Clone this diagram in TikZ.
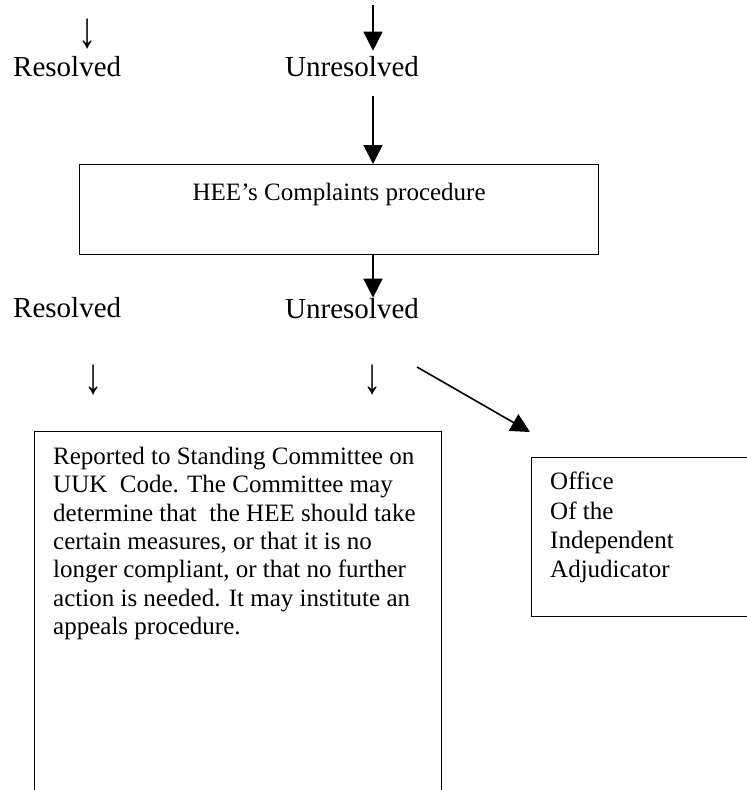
\documentclass[tikz,border=0pt]{standalone}
\usepackage{fontspec}
\setmainfont{Liberation Serif}
\usetikzlibrary{arrows.meta}
\begin{document}
\begin{tikzpicture}[x=1pt,y=-1pt,
  lbl/.style={font=\fontsize{29}{33}\selectfont, inner sep=0pt, anchor=base west},
  gly/.style={font=\fontsize{29}{33}\selectfont, inner sep=0pt},
  body/.style={font=\fontsize{25}{28.3}\selectfont, inner sep=0pt, align=left, anchor=north west},
  boxx/.style={draw, line width=1.3pt, inner sep=0pt, anchor=north west},
  conn/.style={line width=1.6pt, -{Triangle[length=19pt,width=19pt]}}
]
\useasboundingbox (0,0) rectangle (747,790);
\clip (0,0) rectangle (747,790);
% top row
\node[lbl] (r1) at (13,76) {Resolved};
\node[lbl] (u1) at (285,76) {Unresolved};
\node[gly] (a1) at (88,33.5) {\scalebox{1.25}[1.75]{↓}};
\coordinate (in) at (373,5);
\draw[conn, shorten >=5pt] (in) -- (in |- u1.north);
% complaints box
\node[boxx, minimum width=519pt, minimum height=90pt] (hee) at (79,164) {};
\node[font=\fontsize{25}{28}\selectfont, inner sep=0pt, anchor=base] (heet) at ([yshift=-36pt]hee.north) {HEE’s Complaints procedure};
\draw[conn, shorten <=20pt] (u1.south -| in) -- (hee.north -| in);
% second row
\node[lbl] (r2) at (13,317) {Resolved};
\node[lbl] (u2) at (285,318) {Unresolved};
\draw[conn] (hee.south -| in) -- (u2.north -| in);
\node[gly] (a2) at (94,379.5) {\scalebox{1.25}[1.75]{↓}};
\node[gly] (a3) at (373,379.5) {\scalebox{1.25}[1.75]{↓}};
\coordinate (d0) at (417,367);
\coordinate (d1) at (530,432);
\draw[conn] (d0) -- (d1);
% standing committee box
\node[boxx, minimum width=407pt, minimum height=380pt] (sc) at (34,431) {};
\node[body] (sct) at (53,447) {Reported to Standing Committee on\\UUK~ Code. The Committee may\\determine that~ the HEE should take\\certain measures, or that it is no\\longer compliant, or that no further\\action is needed. It may institute an\\appeals procedure.};
% OIA box
\node[boxx, minimum width=240pt, minimum height=159pt] (oia) at (531,457) {};
\node[body, font=\fontsize{25}{29.3}\selectfont] (oiat) at (550,472) {Office\\Of the\\Independent\\Adjudicator};
\end{tikzpicture}
\end{document}
